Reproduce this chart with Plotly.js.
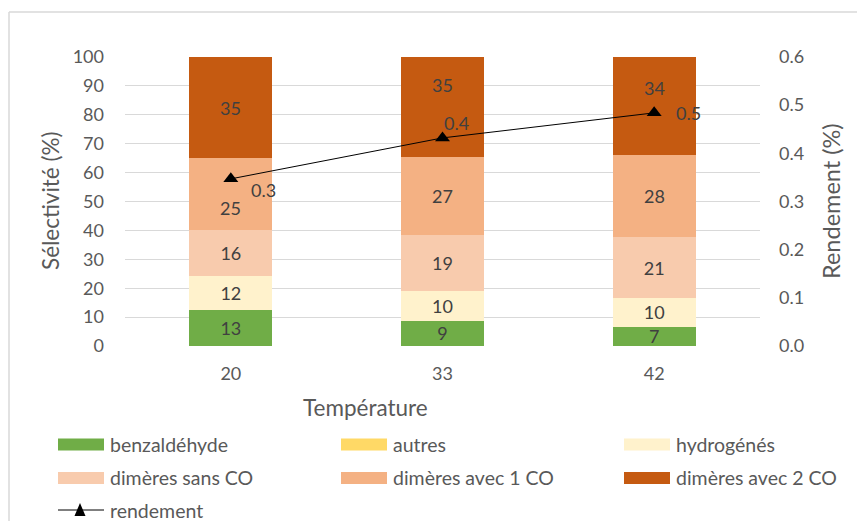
<!DOCTYPE html>
<html>
<head>
<meta charset="utf-8">
<script src="https://cdn.plot.ly/plotly-3.0.1.min.js"></script>
<style>
  html, body { margin: 0; padding: 0; background: #ffffff; }
  #chart { width: 857px; height: 521px; }
</style>
</head>
<body>
<div id="chart"></div>
<script>
// ---- Data ----
const categories = ['20', '33', '42'];
const benzaldehyde = [12.5, 8.7, 6.6];
const autres = [0, 0, 0];
const hydrogenes = [11.7, 10.3, 10.0];
const dimeresSansCO = [15.9, 19.4, 21.1];
const dimeresAvec1CO = [24.9, 27.0, 28.3];
const dimeresAvec2CO = [35.0, 34.6, 34.0];
const rendement = [0.347, 0.432, 0.484];

const seriesNames = ['benzaldéhyde', 'autres', 'hydrogénés', 'dimères sans CO', 'dimères avec 1 CO', 'dimères avec 2 CO'];
const seriesValues = [benzaldehyde, autres, hydrogenes, dimeresSansCO, dimeresAvec1CO, dimeresAvec2CO];
const seriesColors = ['#70AD47', '#FFD966', '#FFF2CC', '#F8CBAD', '#F4B183', '#C55A11'];
const lineName = 'rendement';

// ---- Geometry helpers (figure pixels -> paper fractions) ----
const W = 857, H = 521;
const M = { l: 125, r: 97, t: 57, b: 175 };
const PW = W - M.l - M.r, PH = H - M.t - M.b;
const px = x => (x - M.l) / PW;
const py = y => (H - M.b - y) / PH;

const FONT = 'Lato, "Open Sans", sans-serif';
const gray = '#595959';
const dark = '#404040';

// label offsets (px, upward positive) for series whose labels were moved in the original
const movedLabels = { 4: [-14, 0, 0], 5: [0, 22, 18] };

const traces = seriesNames.map((name, i) => ({
  type: 'bar',
  name: name,
  x: categories,
  y: seriesValues[i],
  marker: { color: seriesColors[i], line: { width: 0 } },
  text: seriesValues[i].map(v => (v > 0 && !(i in movedLabels)) ? Math.round(v).toString() : ''),
  textposition: 'inside',
  insidetextanchor: 'middle',
  textangle: 0,
  textfont: { family: FONT, size: 18, color: dark },
  hoverinfo: 'skip',
  showlegend: false
}));

traces.push({
  type: 'scatter',
  mode: 'lines+markers',
  name: lineName,
  x: categories,
  y: rendement,
  yaxis: 'y2',
  line: { color: '#000000', width: 1 },
  marker: { symbol: 'triangle-up', size: 13, color: '#000000' },
  cliponaxis: false,
  showlegend: false
});

const shapes = [];
const annotations = [];

// ---- Moved segment labels ----
Object.keys(movedLabels).forEach(key => {
  const s = +key;
  categories.forEach((c, i) => {
    let base = 0;
    for (let k = 0; k < s; k++) base += seriesValues[k][i];
    const v = seriesValues[s][i];
    annotations.push({
      xref: 'x', yref: 'y', x: i, y: base + v / 2, yshift: movedLabels[s][i],
      xanchor: 'center', yanchor: 'middle', showarrow: false,
      text: Math.round(v).toString(), font: { family: FONT, size: 18, color: dark }
    });
  });
});

// ---- Line value labels (placed beside each point; x is the category index) ----
const labelShift = [[33, -11], [14, 15], [34, 0]];
rendement.forEach((v, i) => {
  annotations.push({
    xref: 'x', yref: 'y2', x: i, y: v,
    xshift: labelShift[i][0], yshift: labelShift[i][1],
    xanchor: 'center', yanchor: 'middle', showarrow: false,
    text: v.toFixed(1), font: { family: FONT, size: 18, color: dark }
  });
});

// ---- Custom legend ----
const legendCols = [58, 341, 624];
const legendRows = [444.5, 478, 510];
seriesNames.forEach((name, i) => {
  const cx = legendCols[i % 3], cy = legendRows[Math.floor(i / 3)];
  shapes.push({
    type: 'rect', xref: 'paper', yref: 'paper',
    x0: px(cx), x1: px(cx + 46), y0: py(cy + 6), y1: py(cy - 6),
    fillcolor: seriesColors[i], line: { width: 0 }
  });
  annotations.push({
    xref: 'paper', yref: 'paper', x: px(cx + 50), y: py(cy),
    xanchor: 'left', yanchor: 'middle', showarrow: false,
    text: name, font: { family: FONT, size: 19.5, color: gray }
  });
});
{
  const cx = legendCols[0], cy = legendRows[2];
  shapes.push({
    type: 'line', xref: 'paper', yref: 'paper',
    x0: px(cx), x1: px(cx + 46), y0: py(cy), y1: py(cy),
    line: { color: '#000000', width: 1 }
  });
  const tx = cx + 22;
  shapes.push({
    type: 'path', xref: 'paper', yref: 'paper',
    path: `M ${px(tx - 5.5)} ${py(cy + 6)} L ${px(tx + 5.5)} ${py(cy + 6)} L ${px(tx)} ${py(cy - 7)} Z`,
    fillcolor: '#000000', line: { width: 0 }
  });
  annotations.push({
    xref: 'paper', yref: 'paper', x: px(cx + 50), y: py(cy),
    xanchor: 'left', yanchor: 'middle', showarrow: false,
    text: lineName, font: { family: FONT, size: 19.5, color: gray }
  });
}

// ---- Outer frame (top and left) ----
shapes.push({ type: 'line', xref: 'paper', yref: 'paper', x0: px(9), x1: px(W + 5), y0: py(12), y1: py(12), line: { color: '#d9d9d9', width: 1.5 } });
shapes.push({ type: 'line', xref: 'paper', yref: 'paper', x0: px(9), x1: px(9), y0: py(12), y1: py(H + 5), line: { color: '#d9d9d9', width: 1.5 } });

// ---- Axis titles ----
annotations.push({
  xref: 'paper', yref: 'paper', x: px(50), y: py(201), textangle: -90,
  xanchor: 'center', yanchor: 'middle', showarrow: false,
  text: 'Sélectivité (%)', font: { family: FONT, size: 22.5, color: gray }
});
annotations.push({
  xref: 'paper', yref: 'paper', x: px(831), y: py(201), textangle: -90,
  xanchor: 'center', yanchor: 'middle', showarrow: false,
  text: 'Rendement (%)', font: { family: FONT, size: 23.5, color: gray }
});
annotations.push({
  xref: 'paper', yref: 'paper', x: px(365), y: py(407),
  xanchor: 'center', yanchor: 'middle', showarrow: false,
  text: 'Température', font: { family: FONT, size: 22.5, color: gray }
});

const layout = {
  width: W, height: H,
  margin: M,
  paper_bgcolor: '#ffffff',
  plot_bgcolor: '#ffffff',
  barmode: 'stack',
  bargap: 0.607,
  showlegend: false,
  uniformtext: { mode: 'show', minsize: 18 },
  font: { family: FONT, color: gray },
  xaxis: {
    type: 'category',
    range: [-0.5, 2.5],
    showgrid: false, zeroline: false, showline: false,
    ticks: '', ticklabelstandoff: 15,
    tickfont: { family: FONT, size: 18, color: gray }
  },
  yaxis: {
    range: [0, 100], dtick: 10,
    showgrid: true, gridcolor: '#d9d9d9', gridwidth: 1,
    zeroline: false, showline: false, ticks: '',
    ticklabelstandoff: 20,
    tickfont: { family: FONT, size: 18, color: gray }
  },
  yaxis2: {
    overlaying: 'y', side: 'right',
    range: [0, 0.6], dtick: 0.1, tickformat: '.1f',
    showgrid: false, zeroline: false, showline: false, ticks: '',
    ticklabelstandoff: 18,
    tickfont: { family: FONT, size: 18, color: gray }
  },
  shapes: shapes,
  annotations: annotations
};

Plotly.newPlot('chart', traces, layout, { staticPlot: true, displayModeBar: false });
</script>
</body>
</html>
